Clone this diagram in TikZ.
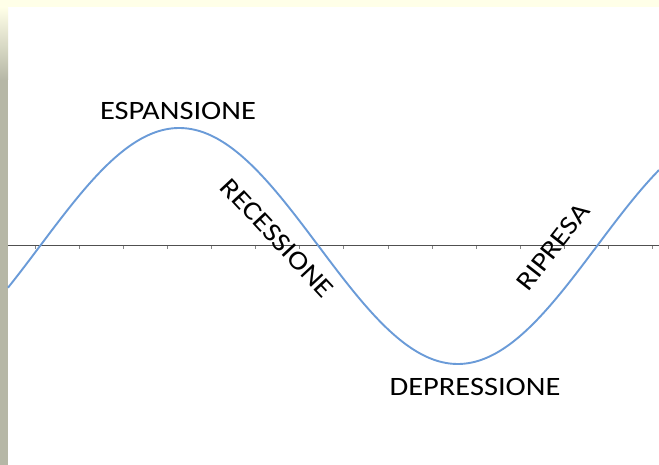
\documentclass[tikz,border=0pt]{standalone}
\usepackage{fontspec}
\setmainfont{Carlito}
\usepackage{graphicx}
\usepackage{xcolor}
\usepackage{tikz}

\definecolor{wavecol}{RGB}{106,155,216}
\definecolor{axiscol}{RGB}{80,80,80}
\definecolor{bandcol}{RGB}{255,255,232}
\definecolor{stripcol}{RGB}{182,183,166}

\newcommand{\wide}[1]{\scalebox{1.15}[1]{#1}}

\begin{document}
\begin{tikzpicture}[
    x=1pt, y=-1pt,
    phase/.style = {inner sep=0pt, font=\fontsize{26.5}{26.5}\selectfont, text=black},
    wave/.style = {wavecol, line width=1.9pt},
    axisline/.style = {axiscol, line width=1pt},
    tick/.style = {axiscol!70, line width=0.6pt}
]
    \useasboundingbox (0,0) rectangle (659,465);

    % Background
    \fill[white] (0,0) rectangle (659,465);
    \fill[bandcol] (0,0) rectangle (659,7);
    \shade[top color=bandcol, bottom color=stripcol] (0,7) rectangle (8,80);
    \fill[stripcol] (0,80) rectangle (8,465);

    % Axis
    \draw[axisline] (8,246) -- (659,246);
    \foreach \t in {0,...,14}
        \draw[tick] (35+44.1*\t,246) -- (35+44.1*\t,249);

    % Wave
    \draw[wave] plot[domain=8:659, samples=220, smooth]
        (\x, {246-118*sin((\x-40)/557*360)});

    % Labels
    \node (esp) [phase] at (178,110.5) {\wide{ESPANSIONE}};
    \node (rec) [phase, rotate=-47] at (277,238) {\wide{RECESSIONE}};
    \node (dep) [phase] at (475,387) {\wide{DEPRESSIONE}};
    \node (rip) [phase, rotate=52] at (553,247) {\wide{RIPRESA}};

\end{tikzpicture}
\end{document}
